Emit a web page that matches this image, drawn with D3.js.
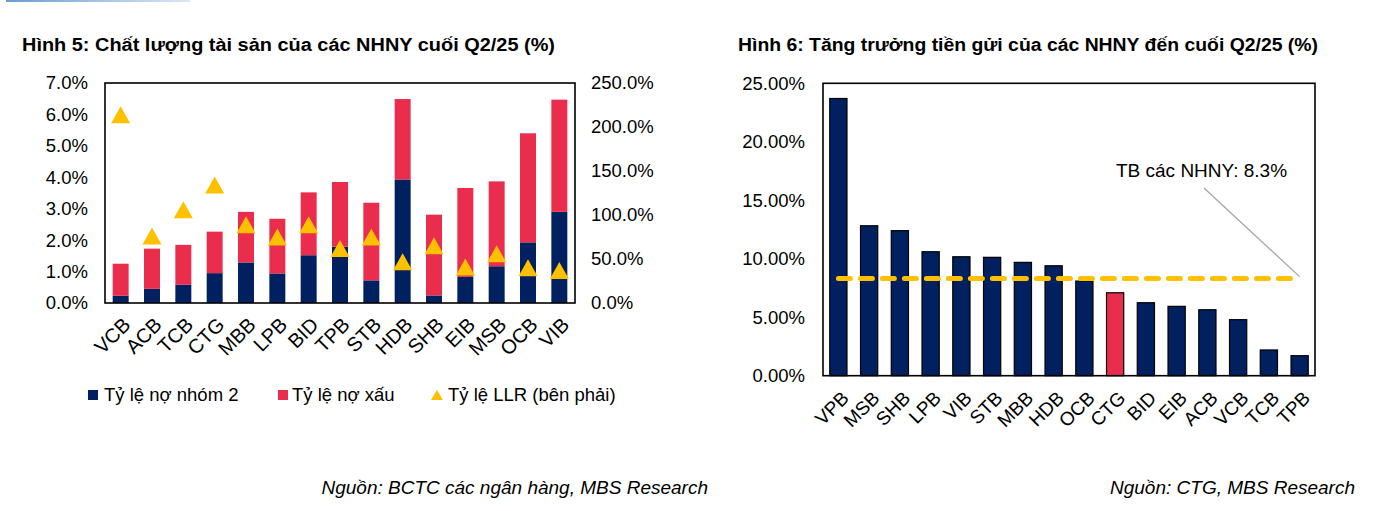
<!DOCTYPE html>
<html>
<head>
<meta charset="utf-8">
<script src="https://cdn.jsdelivr.net/npm/d3@7"></script>
<style>
  body { margin: 0; background: #fff; }
  text { font-family: "Liberation Sans", Arial, sans-serif; fill: #000; }
</style>
</head>
<body>
<div id="chart"></div>
<script>
// Hình 5 - chất lượng tài sản (%)
var banks5 = ["VCB", "ACB", "TCB", "CTG", "MBB", "LPB", "BID", "TPB", "STB", "HDB", "SHB", "EIB", "MSB", "OCB", "VIB"];
var nhom2 = [0.23, 0.45, 0.58, 0.95, 1.29, 0.94, 1.52, 1.79, 0.72, 3.93, 0.24, 0.83, 1.17, 1.93, 2.90];
var noXau = [1.02, 1.28, 1.27, 1.32, 1.61, 1.74, 2.00, 2.06, 2.47, 2.56, 2.57, 2.83, 2.70, 3.47, 3.57];
var llr = [214, 76, 106, 134, 89, 75, 89, 62, 75, 47, 65, 41, 56, 40, 37];
var ticksLeft5 = [0, 1, 2, 3, 4, 5, 6, 7];
var ticksRight5 = [0, 50, 100, 150, 200, 250];
var legend5 = ["Tỷ lệ nợ nhóm 2", "Tỷ lệ nợ xấu", "Tỷ lệ LLR (bên phải)"];

// Hình 6 - tăng trưởng tiền gửi (%)
var banks6 = ["VPB", "MSB", "SHB", "LPB", "VIB", "STB", "MBB", "HDB", "OCB", "CTG", "BID", "EIB", "ACB", "VCB", "TCB", "TPB"];
var tienGui = [23.7, 12.82, 12.4, 10.6, 10.17, 10.12, 9.69, 9.4, 8.09, 7.09, 6.24, 5.93, 5.64, 4.79, 2.2, 1.71];
var tbNhny = 8.3;
var ticks6 = [0, 5, 10, 15, 20, 25];

var NAVY = "#002060", RED = "#EA2D4C", GOLD = "#FFC000";

var svg = d3.select("#chart").append("svg")
  .attr("width", 1393)
  .attr("height", 511);

// dải màu xanh nhỏ trên cùng
var grad = svg.append("defs").append("linearGradient").attr("id", "topbar");
grad.append("stop").attr("offset", "0%").attr("stop-color", "#6b9bd6");
grad.append("stop").attr("offset", "100%").attr("stop-color", "#dce8f6");
svg.append("rect").attr("x", 6).attr("y", 0).attr("width", 184).attr("height", 2).attr("fill", "url(#topbar)");

// tiêu đề (chữ đậm, hơi hẹp)
svg.append("text").attr("x", 22).attr("y", 51)
  .style("font-weight", "bold").style("font-size", "18px")
  .attr("textLength", 533).attr("lengthAdjust", "spacingAndGlyphs")
  .text("Hình 5: Chất lượng tài sản của các NHNY cuối Q2/25 (%)");
svg.append("text").attr("x", 738).attr("y", 51)
  .style("font-weight", "bold").style("font-size", "18px")
  .attr("textLength", 580).attr("lengthAdjust", "spacingAndGlyphs")
  .text("Hình 6: Tăng trưởng tiền gửi của các NHNY đến cuối Q2/25 (%)");

// ---------- Hình 5 ----------
var L = { left: 105, right: 575, top: 83, bottom: 303 };

var x5 = d3.scaleBand().domain(banks5).range([L.left, L.right]).paddingInner(0.49).paddingOuter(0.245);
var yL = d3.scaleLinear().domain([0, 7]).range([L.bottom, L.top]);
var yR = d3.scaleLinear().domain([0, 250]).range([L.bottom, L.top]);

var rows5 = banks5.map(function(b, i) { return { bank: b, nhom2: nhom2[i], noXau: noXau[i] }; });
var stack5 = d3.stack().keys(["nhom2", "noXau"])(rows5);
var colors5 = { nhom2: NAVY, noXau: RED };

var g5 = svg.append("g");
g5.selectAll(".layer")
  .data(stack5)
  .enter().append("g")
  .attr("fill", function(d) { return colors5[d.key]; })
  .selectAll("rect")
  .data(function(d) { return d; })
  .enter().append("rect")
  .attr("x", function(d) { return x5(d.data.bank); })
  .attr("y", function(d) { return yL(d[1]); })
  .attr("width", x5.bandwidth())
  .attr("height", function(d) { return yL(d[0]) - yL(d[1]); });

// tam giác LLR
var TW = 19, TH = 17;
var triPath = "M0," + (-TH / 2) + "L" + (TW / 2) + "," + (TH / 2) + "L" + (-TW / 2) + "," + (TH / 2) + "Z";
g5.selectAll(".llr")
  .data(llr)
  .enter().append("path")
  .attr("class", "llr")
  .attr("d", triPath)
  .attr("fill", GOLD)
  .attr("transform", function(d, i) {
    return "translate(" + (x5(banks5[i]) + x5.bandwidth() / 2) + "," + yR(d) + ")";
  });

g5.append("rect")
  .attr("x", L.left).attr("y", L.top)
  .attr("width", L.right - L.left).attr("height", L.bottom - L.top)
  .attr("fill", "none").attr("stroke", "#000").attr("stroke-width", 1.6);

var axL = g5.append("g").attr("transform", "translate(" + (L.left - 17) + ",0)")
  .call(d3.axisLeft(yL).tickValues(ticksLeft5).tickSize(0).tickPadding(0)
    .tickFormat(function(d) { return d.toFixed(1) + "%"; }));
var axR = g5.append("g").attr("transform", "translate(" + (L.right + 16) + ",0)")
  .call(d3.axisRight(yR).tickValues(ticksRight5).tickSize(0).tickPadding(0)
    .tickFormat(function(d) { return d.toFixed(1) + "%"; }));
[axL, axR].forEach(function(a) {
  a.select(".domain").remove();
  a.selectAll("text").style("font-size", "18.5px").attr("fill", "#000").style("font-family", null);
});

g5.selectAll(".xl5")
  .data(banks5)
  .enter().append("text")
  .attr("class", "xl5")
  .attr("text-anchor", "end")
  .attr("dy", "0.71em")
  .style("font-size", "20px")
  .attr("transform", function(d) {
    return "translate(" + (x5(d) + x5.bandwidth() / 2 + 1) + "," + (L.bottom + 13) + ") rotate(-45)";
  })
  .text(function(d) { return d; });

// chú giải
var lg = g5.append("g").attr("transform", "translate(0,395)");
lg.append("rect").attr("x", 88).attr("y", -5).attr("width", 10).attr("height", 10).attr("fill", NAVY);
lg.append("rect").attr("x", 278).attr("y", -5).attr("width", 10).attr("height", 10).attr("fill", RED);
lg.append("path").attr("d", "M0,-5L6,5L-6,5Z").attr("fill", GOLD).attr("transform", "translate(437,0)");
lg.selectAll(".lt")
  .data(legend5)
  .enter().append("text")
  .attr("x", function(d, i) { return [104, 292, 448][i]; })
  .attr("y", 0).attr("dy", "0.35em")
  .style("font-size", "18.5px")
  .text(function(d) { return d; });

// ---------- Hình 6 ----------
var R = { left: 823, right: 1315, top: 83.3, bottom: 375.7 };
var x6 = d3.scaleBand().domain(banks6).range([R.left, R.right]).paddingInner(0.44).paddingOuter(0.22);
var y6 = d3.scaleLinear().domain([0, 25]).range([R.bottom, R.top]);

var g6 = svg.append("g");
g6.selectAll(".bar6")
  .data(tienGui)
  .enter().append("rect")
  .attr("class", "bar6")
  .attr("x", function(d, i) { return x6(banks6[i]); })
  .attr("y", function(d) { return y6(d); })
  .attr("width", x6.bandwidth())
  .attr("height", function(d) { return y6(0) - y6(d); })
  .attr("fill", function(d, i) { return banks6[i] === "CTG" ? RED : NAVY; })
  .attr("stroke", "#000").attr("stroke-width", 1.2);

g6.append("line")
  .attr("x1", x6(banks6[0]) + x6.bandwidth() / 2)
  .attr("x2", x6(banks6[banks6.length - 1]) + x6.bandwidth() / 2)
  .attr("y1", y6(tbNhny)).attr("y2", y6(tbNhny))
  .attr("stroke", GOLD).attr("stroke-width", 5)
  .attr("stroke-linecap", "round").attr("stroke-dasharray", "12,10");

g6.append("line")
  .attr("x1", 1204).attr("y1", 188)
  .attr("x2", x6(banks6[banks6.length - 1]) + x6.bandwidth() / 2).attr("y2", y6(tbNhny) - 2)
  .attr("stroke", "#a6a6a6").attr("stroke-width", 1.3);

g6.append("text").attr("x", 1116).attr("y", 177)
  .style("font-size", "19px")
  .text("TB các NHNY: " + tbNhny + "%");

g6.append("rect")
  .attr("x", R.left).attr("y", R.top)
  .attr("width", R.right - R.left).attr("height", R.bottom - R.top)
  .attr("fill", "none").attr("stroke", "#000").attr("stroke-width", 1.6);

var ax6 = g6.append("g").attr("transform", "translate(" + (R.left - 18) + ",0)")
  .call(d3.axisLeft(y6).tickValues(ticks6).tickSize(0).tickPadding(0)
    .tickFormat(function(d) { return d.toFixed(2) + "%"; }));
ax6.select(".domain").remove();
ax6.selectAll("text").style("font-size", "18.5px").attr("fill", "#000").style("font-family", null);

g6.selectAll(".xl6")
  .data(banks6)
  .enter().append("text")
  .attr("class", "xl6")
  .attr("text-anchor", "end")
  .attr("dy", "0.71em")
  .style("font-size", "19px")
  .attr("transform", function(d) {
    return "translate(" + (x6(d) + x6.bandwidth() / 2 + 2) + "," + (R.bottom + 14) + ") rotate(-45)";
  })
  .text(function(d) { return d; });

// nguồn
svg.append("text").attr("x", 708).attr("y", 494)
  .attr("text-anchor", "end").style("font-style", "italic").style("font-size", "19px").attr("fill", "#222")
  .text("Nguồn: BCTC các ngân hàng, MBS Research");
svg.append("text").attr("x", 1355).attr("y", 494)
  .attr("text-anchor", "end").style("font-style", "italic").style("font-size", "19px").attr("fill", "#222")
  .text("Nguồn: CTG, MBS Research");
</script>
</body>
</html>
